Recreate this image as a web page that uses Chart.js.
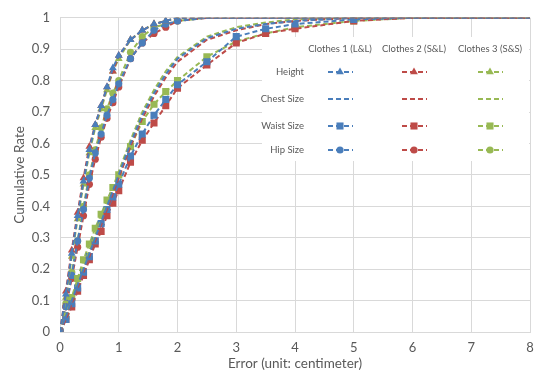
<!DOCTYPE html>
<html lang="en">
<head>
    <meta charset="UTF-8">
    <title>Cumulative Rate of Error</title>
    <script src="https://cdn.jsdelivr.net/npm/chart.js"></script>
    <style>
        body { margin: 0; background: #fff; }
        #wrap { width: 535px; height: 376px; }
    </style>
</head>
<body>
    <div id="wrap"><canvas id="errChart" width="535" height="376"></canvas></div>

    <script>
        // error values (cm) where the cumulative rate was taken
        const errX = [0, 0.1, 0.2, 0.3, 0.4, 0.5, 0.6, 0.7, 0.8, 0.9, 1.0, 1.2, 1.4, 1.6, 1.8, 2.0, 2.5, 3.0, 3.5, 4.0, 5.0, 6.0, 7.0, 8.0];

        const clothesNames = ['Clothes 1 (L&L)', 'Clothes 2 (S&L)', 'Clothes 3 (S&S)'];
        const partNames = ['Height', 'Chest Size', 'Waist Size', 'Hip Size'];

        // Height
        const height1 = [0, 0.12, 0.25, 0.37, 0.48, 0.58, 0.66, 0.72, 0.78, 0.84, 0.88, 0.93, 0.96, 0.98, 0.99, 1, 1, 1, 1, 1, 1, 1, 1, 1];
        const height2 = [0, 0.13, 0.26, 0.38, 0.49, 0.59, 0.66, 0.72, 0.78, 0.83, 0.88, 0.93, 0.96, 0.98, 0.99, 1, 1, 1, 1, 1, 1, 1, 1, 1];
        const height3 = [0, 0.11, 0.24, 0.36, 0.47, 0.57, 0.65, 0.71, 0.77, 0.83, 0.87, 0.93, 0.96, 0.98, 0.99, 1, 1, 1, 1, 1, 1, 1, 1, 1];
        // Chest Size
        const chest1 = [0, 0.05, 0.10, 0.15, 0.20, 0.25, 0.30, 0.35, 0.40, 0.45, 0.50, 0.60, 0.69, 0.76, 0.82, 0.87, 0.935, 0.965, 0.98, 0.99, 1, 1, 1, 1];
        const chest2 = [0, 0.04, 0.09, 0.14, 0.19, 0.24, 0.29, 0.34, 0.39, 0.44, 0.49, 0.59, 0.68, 0.75, 0.81, 0.86, 0.93, 0.96, 0.98, 0.99, 1, 1, 1, 1];
        const chest3 = [0, 0.05, 0.10, 0.16, 0.21, 0.26, 0.31, 0.36, 0.41, 0.46, 0.51, 0.61, 0.70, 0.77, 0.83, 0.875, 0.94, 0.97, 0.985, 0.995, 1, 1, 1, 1];
        // Waist Size
        const waist1 = [0, 0.04, 0.09, 0.14, 0.19, 0.24, 0.29, 0.345, 0.39, 0.43, 0.47, 0.56, 0.63, 0.69, 0.74, 0.787, 0.86, 0.94, 0.965, 0.98, 0.995, 1, 1, 1];
        const waist2 = [0, 0.04, 0.08, 0.13, 0.18, 0.23, 0.28, 0.32, 0.37, 0.41, 0.45, 0.54, 0.61, 0.665, 0.72, 0.776, 0.85, 0.92, 0.95, 0.965, 0.99, 1, 1, 1];
        const waist3 = [0, 0.05, 0.11, 0.17, 0.23, 0.28, 0.33, 0.375, 0.42, 0.46, 0.50, 0.59, 0.67, 0.725, 0.765, 0.80, 0.876, 0.925, 0.95, 0.97, 0.99, 1, 1, 1];
        // Hip Size
        const hip1 = [0, 0.08, 0.18, 0.29, 0.39, 0.49, 0.57, 0.63, 0.69, 0.74, 0.79, 0.87, 0.92, 0.96, 0.98, 0.99, 1, 1, 1, 1, 1, 1, 1, 1];
        const hip2 = [0, 0.08, 0.17, 0.27, 0.37, 0.47, 0.55, 0.62, 0.68, 0.73, 0.78, 0.87, 0.92, 0.95, 0.97, 0.99, 1, 1, 1, 1, 1, 1, 1, 1];
        const hip3 = [0, 0.09, 0.19, 0.29, 0.40, 0.50, 0.58, 0.65, 0.71, 0.76, 0.80, 0.89, 0.94, 0.97, 0.98, 0.99, 1, 1, 1, 1, 1, 1, 1, 1];

        const seriesByPart = [
            [height1, height2, height3],
            [chest1, chest2, chest3],
            [waist1, waist2, waist3],
            [hip1, hip2, hip3]
        ];

        const colors = ['#4a7ebb', '#be4b48', '#98b954'];
        const markers = [
            { style: 'triangle', r: 4.5 },
            { style: false, r: 0 },
            { style: 'rect', r: 5 },
            { style: 'circle', r: 3.6 }
        ];
        const textColor = '#595959';
        const fontFamily = 'Lato, "Open Sans", sans-serif';

        const datasets = [];
        partNames.forEach((part, p) => {
            clothesNames.forEach((cl, c) => {
                const ys = seriesByPart[p][c];
                datasets.push({
                    label: part + ' - ' + cl,
                    data: errX.map((x, i) => ({ x: x, y: ys[i] })),
                    borderColor: colors[c],
                    backgroundColor: colors[c],
                    borderWidth: 2,
                    borderDash: [5, 3],
                    showLine: true,
                    pointStyle: markers[p].style || 'circle',
                    // no markers on the flat part at 100 %
                    pointRadius: ctx => (markers[p].style && ctx.raw && ctx.raw.y < 0.999) ? markers[p].r : 0,
                    pointBorderWidth: 0
                });
            });
        });

        // table-style legend drawn inside the plot area
        const tableLegend = {
            id: 'tableLegend',
            afterDatasetsDraw(chart) {
                const ctx = chart.ctx;
                const box = { x: 262, y: 37, w: 267, h: 124 };
                const colX = [340, 414, 490];
                const rowY = [72, 99, 126, 150];
                ctx.save();
                ctx.fillStyle = '#ffffff';
                ctx.fillRect(box.x, box.y, box.w, box.h);

                ctx.fillStyle = textColor;
                ctx.font = '9.5px ' + fontFamily;
                ctx.textAlign = 'center';
                ctx.textBaseline = 'middle';
                clothesNames.forEach((name, c) => ctx.fillText(name, colX[c], 49));

                ctx.textAlign = 'right';
                partNames.forEach((name, p) => ctx.fillText(name, 304, rowY[p]));

                partNames.forEach((name, p) => {
                    clothesNames.forEach((cl, c) => {
                        const cx = colX[c], cy = rowY[p];
                        ctx.strokeStyle = colors[c];
                        ctx.lineWidth = 2;
                        ctx.setLineDash([5, 3]);
                        ctx.beginPath();
                        ctx.moveTo(cx - 12, cy);
                        ctx.lineTo(cx + 13, cy);
                        ctx.stroke();
                        ctx.setLineDash([]);
                        if (markers[p].style) {
                            ctx.fillStyle = colors[c];
                            ctx.strokeStyle = colors[c];
                            Chart.helpers.drawPoint(ctx, {
                                pointStyle: markers[p].style,
                                radius: markers[p].r,
                                rotation: 0,
                                borderWidth: 0
                            }, cx, cy);
                        }
                        ctx.fillStyle = textColor;
                    });
                });
                ctx.restore();
            }
        };

        const ctx = document.getElementById('errChart').getContext('2d');
        const chart = new Chart(ctx, {
            type: 'scatter',
            data: { datasets: datasets },
            options: {
                responsive: false,
                animation: false,
                layout: { padding: { left: 8, right: 1, top: 16, bottom: 0 } },
                plugins: {
                    legend: { display: false },
                    tooltip: { enabled: false }
                },
                scales: {
                    x: {
                        type: 'linear',
                        min: 0,
                        max: 8,
                        ticks: { stepSize: 1, color: textColor, padding: 8, font: { family: fontFamily, size: 13 } },
                        grid: { color: '#d9d9d9', drawTicks: false },
                        border: { color: '#d9d9d9' },
                        title: { display: true, text: 'Error (unit: centimeter)', color: textColor, font: { family: fontFamily, size: 13.5 } },
                        afterFit: scale => { scale.height = 44; scale.paddingRight = 0; }
                    },
                    y: {
                        type: 'linear',
                        min: 0,
                        max: 1,
                        ticks: {
                            stepSize: 0.1,
                            color: textColor,
                            padding: 10,
                            font: { family: fontFamily, size: 13 },
                            callback: v => String(+v.toFixed(1))
                        },
                        grid: { color: '#d9d9d9', drawTicks: false },
                        border: { color: '#d9d9d9' },
                        title: { display: true, text: 'Cumulative Rate', color: textColor, font: { family: fontFamily, size: 13.5 } },
                        afterFit: scale => { scale.width = 52; }
                    }
                }
            },
            plugins: [tableLegend]
        });
    </script>
</body>
</html>
